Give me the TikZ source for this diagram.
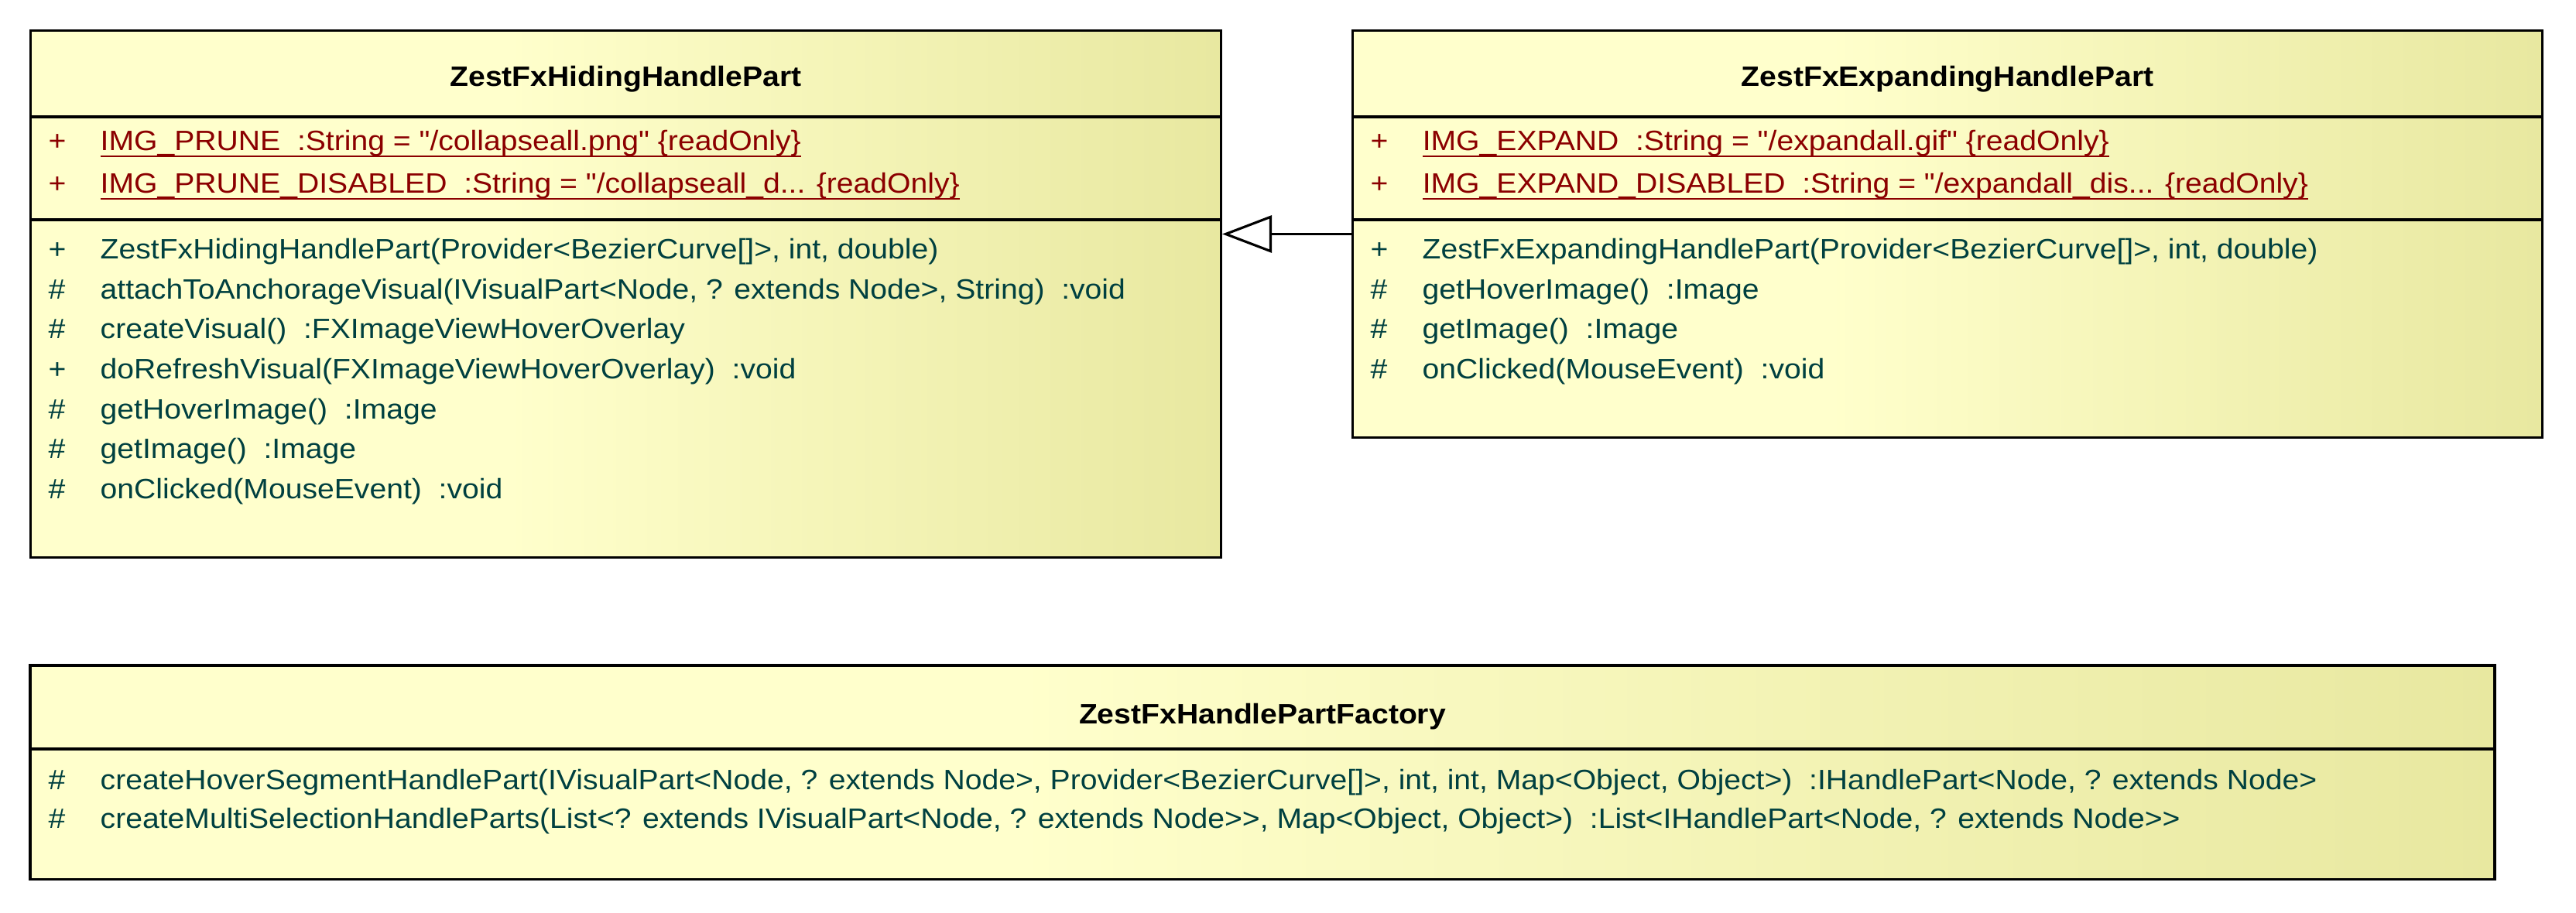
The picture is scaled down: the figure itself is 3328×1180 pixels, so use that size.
\documentclass[tikz,border=0pt]{standalone}
\usepackage{fontspec}
\setmainfont{Liberation Sans}[FakeStretch=1.08, Ligatures=TeXOff]
\usetikzlibrary{arrows.meta, positioning}
\definecolor{attrred}{RGB}{139,0,0}
\definecolor{methteal}{RGB}{0,64,64}
\definecolor{umllight}{RGB}{255,255,204}
\definecolor{umldark}{RGB}{232,232,160}
\pgfdeclarehorizontalshading{umlfill}{100bp}{color(0bp)=(umllight); color(45bp)=(umllight); color(75bp)=(umldark); color(100bp)=(umldark)}
\newcommand{\umlsize}{\fontsize{10.3pt}{12pt}\selectfont}
\newcommand{\vis}[1]{\makebox[0.67cm][l]{#1}}
\newsavebox{\statbox}
\newcommand{\stat}[1]{\sbox{\statbox}{#1}\rlap{\rule[-2.4pt]{\wd\statbox}{0.8pt}}\usebox{\statbox}}
\tikzset{
	umlclass/.style={draw, rectangle, line width=0.9pt, shading=umlfill, inner sep=0pt},
	classname/.style={anchor=base, inner sep=0pt, font=\umlsize\bfseries},
	attr/.style={anchor=base west, inner sep=0pt, text=attrred},
	meth/.style={anchor=base west, inner sep=0pt, text=methteal},
	sep/.style={line width=0.9pt},
}

\begin{document}
\begin{tikzpicture}[x=0.01cm, y=-0.01cm, font=\umlsize]
	\useasboundingbox (0,0) rectangle (3328,1180);
	
	\node (hiding) [umlclass, minimum width=15.37cm, minimum height=6.8cm] at (808.5,380) {};
	\node (expanding) [umlclass, minimum width=15.36cm, minimum height=5.25cm] at (2516,302.5) {};
	\node (factory) [umlclass, minimum width=31.82cm, minimum height=2.76cm] at (1631,998) {};
	
	\draw[sep] (40,151) -- (1577,151);
	\draw[sep] (40,284) -- (1577,284);
	\draw[sep] (1748,151) -- (3284,151);
	\draw[sep] (1748,284) -- (3284,284);
	\draw[sep] (40,968) -- (3222,968);
	
	% ZestFxHidingHandlePart
	\node (hname) [classname] at (808.5,112) {ZestFxHidingHandlePart};
	\node (ha1) [attr] at (62,195) {\vis{+}\stat{IMG\_PRUNE\ \ :String = "/collapseall.png" \{readOnly\}}};
	\node (ha2) [attr] at (62,250) {\vis{+}\stat{IMG\_PRUNE\_DISABLED\ \ :String = "/collapseall\_d... \{readOnly\}}};
	\node (hm1) [meth] at (62,335) {\vis{+}ZestFxHidingHandlePart(Provider<BezierCurve[]>, int, double)};
	\node (hm2) [meth] at (62,387) {\vis{\#}attachToAnchorageVisual(IVisualPart<Node, ? extends Node>, String)\ \ :void};
	\node (hm3) [meth] at (62,438) {\vis{\#}createVisual()\ \ :FXImageViewHoverOverlay};
	\node (hm4) [meth] at (62,490) {\vis{+}doRefreshVisual(FXImageViewHoverOverlay)\ \ :void};
	\node (hm5) [meth] at (62,542) {\vis{\#}getHoverImage()\ \ :Image};
	\node (hm6) [meth] at (62,593) {\vis{\#}getImage()\ \ :Image};
	\node (hm7) [meth] at (62,645) {\vis{\#}onClicked(MouseEvent)\ \ :void};
	
	% ZestFxExpandingHandlePart
	\node (ename) [classname] at (2516,112) {ZestFxExpandingHandlePart};
	\node (ea1) [attr] at (1770,195) {\vis{+}\stat{IMG\_EXPAND\ \ :String = "/expandall.gif" \{readOnly\}}};
	\node (ea2) [attr] at (1770,250) {\vis{+}\stat{IMG\_EXPAND\_DISABLED\ \ :String = "/expandall\_dis... \{readOnly\}}};
	\node (em1) [meth] at (1770,335) {\vis{+}ZestFxExpandingHandlePart(Provider<BezierCurve[]>, int, double)};
	\node (em2) [meth] at (1770,387) {\vis{\#}getHoverImage()\ \ :Image};
	\node (em3) [meth] at (1770,438) {\vis{\#}getImage()\ \ :Image};
	\node (em4) [meth] at (1770,490) {\vis{\#}onClicked(MouseEvent)\ \ :void};
	
	% ZestFxHandlePartFactory
	\node (fname) [classname] at (1631,935) {ZestFxHandlePartFactory};
	\node (fm1) [meth] at (62,1020) {\vis{\#}createHoverSegmentHandlePart(IVisualPart<Node, ? extends Node>, Provider<BezierCurve[]>, int, int, Map<Object, Object>)\ \ :IHandlePart<Node, ? extends Node>};
	\node (fm2) [meth] at (62,1070) {\vis{\#}createMultiSelectionHandleParts(List<? extends IVisualPart<Node, ? extends Node>>, Map<Object, Object>)\ \ :List<IHandlePart<Node, ? extends Node>>};
	
	\draw[-{Triangle[open, length=0.64cm, width=0.48cm]}, line width=0.9pt] (expanding.west) -- (expanding.west -| hiding.east);
	
\end{tikzpicture}
\end{document}
